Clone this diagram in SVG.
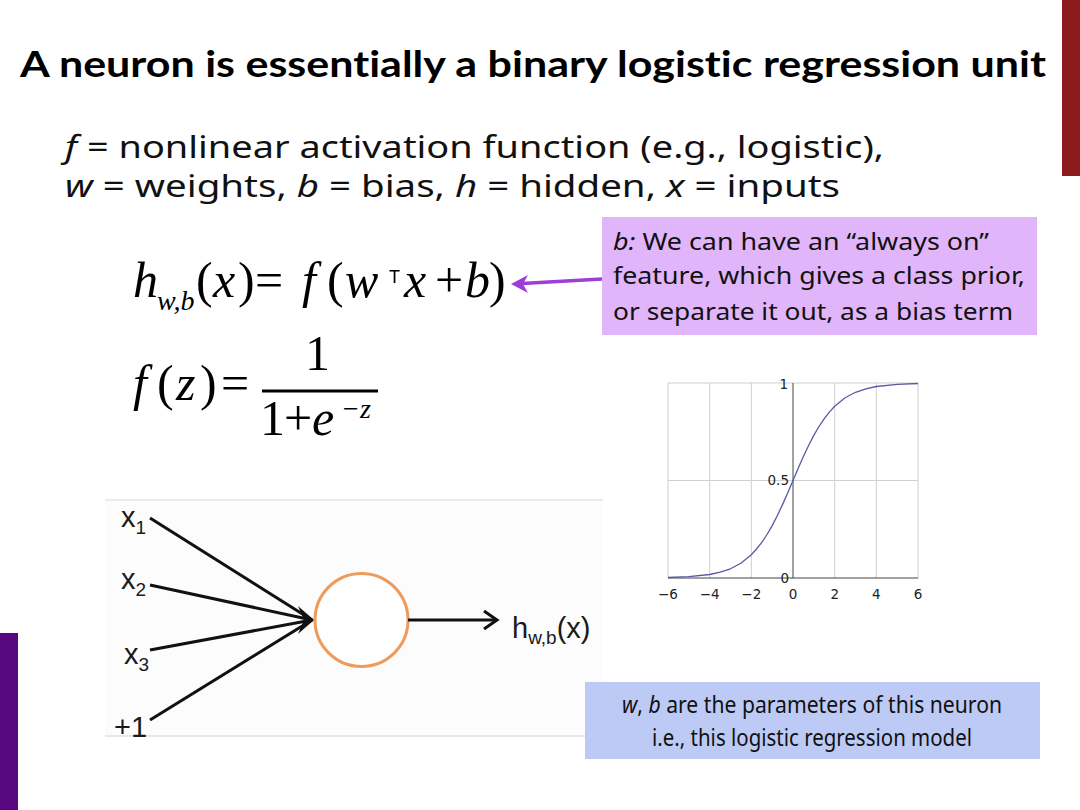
<svg xmlns="http://www.w3.org/2000/svg" width="1080" height="810" viewBox="0 0 1080 810">
<defs>
<style>
.title{font-family:"Lato","Open Sans",sans-serif;font-weight:700;font-size:36px;fill:#000;font-variant-ligatures:none}
.sub{font-family:"Noto Sans","Open Sans",sans-serif;font-size:31px;fill:#111}
.box{font-family:"Noto Sans","Open Sans",sans-serif;font-size:24px;fill:#111}
.m{font-family:"Liberation Serif","Times New Roman",serif;font-size:50px;fill:#000}
.mi{font-family:"Liberation Serif","Times New Roman",serif;font-style:italic;font-size:50px;fill:#000}
.ms{font-family:"Liberation Serif","Times New Roman",serif;font-style:italic;font-size:28px;fill:#000}
.lab{font-family:"Liberation Sans","Lato",sans-serif;font-size:29px;fill:#1a1a1a}
.labs{font-family:"Liberation Sans","Lato",sans-serif;font-size:19px;fill:#1a1a1a}
.ax{font-family:"DejaVu Sans",sans-serif;font-size:13.5px;fill:#222}
.grid{stroke:#cfcfcf;stroke-width:1;fill:none}
.edge{stroke:#111;stroke-width:3;fill:none}
</style>
</defs>
<rect width="1080" height="810" fill="#fff"/>
<rect x="1062" y="0" width="18" height="176" fill="#8a1a1c"/>
<rect x="0" y="633" width="18" height="177" fill="#57087f"/>

<g id="title">
<text class="title" x="20" y="77" textLength="1026" lengthAdjust="spacingAndGlyphs">A neuron is essentially a binary logistic regression unit</text>
</g>
<g id="definitions">
<text class="sub" x="65" y="158" textLength="819" lengthAdjust="spacingAndGlyphs"><tspan font-style="italic">f</tspan> = nonlinear activation function (e.g., logistic),</text>
<text class="sub" x="65" y="197" textLength="775" lengthAdjust="spacingAndGlyphs"><tspan font-style="italic">w</tspan> = weights, <tspan font-style="italic">b</tspan> = bias, <tspan font-style="italic">h</tspan> = hidden, <tspan font-style="italic">x</tspan> = inputs</text>
</g>

<g id="formula-h">
<text class="mi" x="133" y="297">h</text>
<text class="ms" x="157" y="310">w,b</text>
<text class="m" x="196" y="297">(</text>
<text class="mi" x="213" y="297">x</text>
<text class="m" x="238" y="297">)</text>
<text class="m" x="255" y="297">=</text>
<text class="mi" x="302" y="297">f</text>
<text class="m" x="327" y="297">(</text>
<text class="mi" x="345" y="297">w</text>
<text x="389" y="283" font-family="Liberation Sans,sans-serif" font-size="18" fill="#000">T</text>
<text class="mi" x="404" y="297">x</text>
<text class="m" x="435" y="297">+</text>
<text class="mi" x="465" y="297">b</text>
<text class="m" x="489" y="297">)</text>
</g>

<g id="formula-f">
<text class="mi" x="133" y="400">f</text>
<text class="m" x="157" y="400">(</text>
<text class="mi" x="176" y="400">z</text>
<text class="m" x="200" y="400">)</text>
<text class="m" x="221" y="400">=</text>
<text class="m" x="305" y="370">1</text>
<line x1="262" y1="391" x2="378" y2="391" stroke="#000" stroke-width="3"/>
<text class="m" x="260" y="435">1</text>
<text class="m" x="284" y="435">+</text>
<text class="mi" x="312" y="435">e</text>
<text class="ms" x="341" y="418">−z</text>
</g>

<g id="note-bias">
<rect x="602" y="217" width="435" height="118" fill="#e1b5fa"/>
<text class="box" x="613" y="250" textLength="376" lengthAdjust="spacingAndGlyphs"><tspan font-style="italic">b:</tspan> We can have an “always on”</text>
<text class="box" x="613" y="284" textLength="412" lengthAdjust="spacingAndGlyphs">feature, which gives a class prior,</text>
<text class="box" x="613" y="320" textLength="400" lengthAdjust="spacingAndGlyphs">or separate it out, as a bias term</text>
</g>

<g id="connectors">
<line x1="602" y1="279" x2="522" y2="283.5" stroke="#9b3fd6" stroke-width="3.5"/>
<path d="M511,284 L528,275 L523,284 L528,293 Z" fill="#9b3fd6"/>
</g>

<g id="sigmoid-chart">
<line class="grid" x1="668" y1="383" x2="918" y2="383"/>
<line class="grid" x1="668" y1="480.5" x2="918" y2="480.5"/>
<line class="grid" x1="668" y1="383" x2="668" y2="578"/>
<line class="grid" x1="709.7" y1="383" x2="709.7" y2="578"/>
<line class="grid" x1="751.3" y1="383" x2="751.3" y2="578"/>
<line class="grid" x1="834.7" y1="383" x2="834.7" y2="578"/>
<line class="grid" x1="876.3" y1="383" x2="876.3" y2="578"/>
<line class="grid" x1="918" y1="383" x2="918" y2="578"/>
<line x1="668" y1="578" x2="918" y2="578" stroke="#444" stroke-width="1"/>
<line x1="793" y1="383" x2="793" y2="578" stroke="#444" stroke-width="1"/>
<polyline fill="none" stroke="#5a58a8" stroke-width="1.3" stroke-linejoin="round" points="668,577.5 688.8,576.7 709.7,574.5 720.1,572.2 730.5,568.8 740.9,563.2 751.3,554.8 756.5,549.0 761.8,542.4 767,534.5 772.2,525.6 777.4,515.5 782.6,504.4 787.8,492.7 793,480.5 798.2,468.3 803.4,456.6 808.6,445.5 813.8,435.4 819,426.5 824.3,418.6 829.5,411.9 834.7,406.3 845.1,397.8 855.5,392.3 865.9,388.8 876.3,386.5 897.2,384.3 918,383.5"/>
<text class="ax" x="788" y="389" text-anchor="end">1</text>
<text class="ax" x="789" y="485" text-anchor="end">0.5</text>
<text class="ax" x="789" y="583" text-anchor="end">0</text>
<text class="ax" x="668" y="599" text-anchor="middle">−6</text>
<text class="ax" x="709.7" y="599" text-anchor="middle">−4</text>
<text class="ax" x="751.3" y="599" text-anchor="middle">−2</text>
<text class="ax" x="793" y="599" text-anchor="middle">0</text>
<text class="ax" x="834.7" y="599" text-anchor="middle">2</text>
<text class="ax" x="876.3" y="599" text-anchor="middle">4</text>
<text class="ax" x="918" y="599" text-anchor="middle">6</text>
</g>

<g id="neuron-diagram">
<rect x="105" y="500" width="498" height="236" fill="#fcfcfc"/>
<line x1="105" y1="500" x2="603" y2="500" stroke="#e6e6e6" stroke-width="1.5"/>
<line x1="105" y1="736" x2="603" y2="736" stroke="#e0e0e0" stroke-width="1.5"/>
</g>

<g id="input-x1"><text class="lab" x="121" y="527">x<tspan class="labs" dy="7">1</tspan></text></g>
<g id="input-x2"><text class="lab" x="121" y="589">x<tspan class="labs" dy="7">2</tspan></text></g>
<g id="input-x3"><text class="lab" x="124" y="664">x<tspan class="labs" dy="7">3</tspan></text></g>
<g id="input-bias"><text class="lab" x="114" y="737">+1</text></g>

<g id="neuron"><circle cx="361.5" cy="620" r="46.5" fill="#fff" stroke="#ee9a5a" stroke-width="3"/></g>

<g id="output-label"><text class="lab" x="512" y="638" font-size="30">h<tspan class="labs" dy="6">w,b</tspan><tspan dy="-6">(x)</tspan></text></g>

<g id="neuron-connectors">
<line class="edge" x1="150" y1="518" x2="312" y2="620"/>
<line class="edge" x1="150" y1="585" x2="312" y2="620"/>
<line class="edge" x1="150" y1="650" x2="312" y2="620"/>
<line class="edge" x1="150" y1="720" x2="312" y2="620"/>
<path d="M298,606 L314,620 L298,634 L304,620 Z" fill="#111"/>
<line class="edge" x1="408" y1="620" x2="496" y2="620"/>
<polyline class="edge" points="484,611 497,620 484,629"/>
</g>

<g id="note-params">
<rect x="585" y="682" width="455" height="77" fill="#bdcaf5"/>
<text class="box" x="812" y="713" text-anchor="middle" textLength="380" lengthAdjust="spacingAndGlyphs"><tspan font-style="italic">w</tspan>, <tspan font-style="italic">b</tspan> are the parameters of this neuron</text>
<text class="box" x="812" y="746" text-anchor="middle" textLength="320" lengthAdjust="spacingAndGlyphs">i.e., this logistic regression model</text>
</g>
</svg>
